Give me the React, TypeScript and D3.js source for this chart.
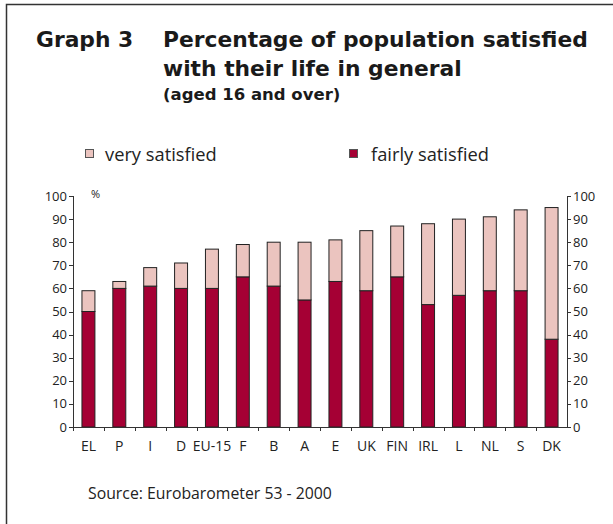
import React from "react";
import * as d3 from "d3";

const categories = ["EL", "P", "I", "D", "EU-15", "F", "B", "A", "E", "UK", "FIN", "IRL", "L", "NL", "S", "DK"];
const fairlySatisfied = [50, 60, 61, 60, 60, 65, 61, 55, 63, 59, 65, 53, 57, 59, 59, 38];
const verySatisfied = [9, 3, 8, 11, 17, 14, 19, 25, 18, 26, 22, 35, 33, 32, 35, 57];
const yTicks = [0, 10, 20, 30, 40, 50, 60, 70, 80, 90, 100];

const W = 613, H = 524;
const X0 = 73, X1 = 567, Y0 = 427, Y1 = 196;
const C_FAIRLY = "#a50034";
const C_VERY = "#ebc4bf";
const AX = "#333";
const SANS = "'Open Sans', sans-serif";
const TITLE = "'DejaVu Sans', sans-serif";

export default function App() {
  const x = d3.scaleBand<string>().domain(categories).range([X0, X1]).paddingInner(0.58).paddingOuter(0.29);
  const xb = d3.scaleBand<string>().domain(categories).range([X0, X1]);
  const y = d3.scaleLinear().domain([0, 100]).range([Y0, Y1]);
  const stackData = categories.map((c, i) => ({ c, fairly: fairlySatisfied[i], very: verySatisfied[i] }));
  const series = d3.stack<any>().keys(["fairly", "very"])(stackData);
  const colors: Record<string, string> = { fairly: C_FAIRLY, very: C_VERY };

  return (
    <svg width={W} height={H} style={{ position: "absolute", left: 0, top: 0 }}>
      <rect x={0} y={0} width={W} height={H} fill="#fff" />
      <path d={`M6.5,${H} V4.5 H${W}`} fill="none" stroke="#333" strokeWidth={1.5} />
      <g fontFamily={TITLE} fontWeight="bold" fill="#1a1a1a">
        <text x={36} y={47} fontSize={21.8}>Graph 3</text>
        <text x={163} y={47} fontSize={21.8}>Percentage of population satisfied</text>
        <text x={163} y={76} fontSize={21.8}>with their life in general</text>
        <text x={163} y={100} fontSize={16.5}>(aged 16 and over)</text>
      </g>
      <g fontFamily={SANS} fontSize={18.3} fill="#222">
        <rect x={85.5} y={149.5} width={8} height={8} fill={C_VERY} stroke="#555" strokeWidth={1} />
        <text x={105} y={161}>very satisfied</text>
        <rect x={349.5} y={149.5} width={8} height={8} fill={C_FAIRLY} stroke="#555" strokeWidth={1} />
        <text x={371} y={161}>fairly satisfied</text>
      </g>
      {series.map((s) => (
        <g key={s.key} fill={colors[s.key]} stroke="#222" strokeWidth={1}>
          {s.map((d, i) => (
            <rect key={i} x={x(categories[i])!} y={y(d[1])} width={x.bandwidth()} height={y(d[0]) - y(d[1])} />
          ))}
        </g>
      ))}
      <g stroke={AX} strokeWidth={1} fill="none">
        <line x1={X0} x2={X1} y1={Y0 + 0.5} y2={Y0 + 0.5} />
        <line x1={X0 + 0.5} x2={X0 + 0.5} y1={Y1} y2={Y0} />
        <line x1={X1 + 0.5} x2={X1 + 0.5} y1={Y1} y2={Y0} />
        {yTicks.map((t) => (
          <g key={t}>
            <line x1={X0 - 4} x2={X0} y1={Math.round(y(t)) + 0.5} y2={Math.round(y(t)) + 0.5} />
            <line x1={X1} x2={X1 + 4} y1={Math.round(y(t)) + 0.5} y2={Math.round(y(t)) + 0.5} />
          </g>
        ))}
        {categories.map((c) => (
          <line key={c} x1={Math.round(xb(c)!) + 0.5} x2={Math.round(xb(c)!) + 0.5} y1={Y0} y2={Y0 + 4} />
        ))}
      </g>
      <g fontFamily={SANS} fontSize={13} fill="#222">
        {yTicks.map((t) => (
          <g key={t}>
            <text x={X0 - 6} y={y(t)} dy="0.35em" textAnchor="end">{t}</text>
            <text x={X1 + 6} y={y(t)} dy="0.35em" textAnchor="start">{t}</text>
          </g>
        ))}
        <text x={91} y={y(100)} dy="0.2em" fontSize={11}>%</text>
        {categories.map((c) => (
          <text key={c} x={x(c)! + x.bandwidth() / 2} y={451} textAnchor="middle" fontSize={14}>{c}</text>
        ))}
        <text x={88} y={499} fontSize={15.8}>Source: Eurobarometer 53 - 2000</text>
      </g>
    </svg>
  );
}
